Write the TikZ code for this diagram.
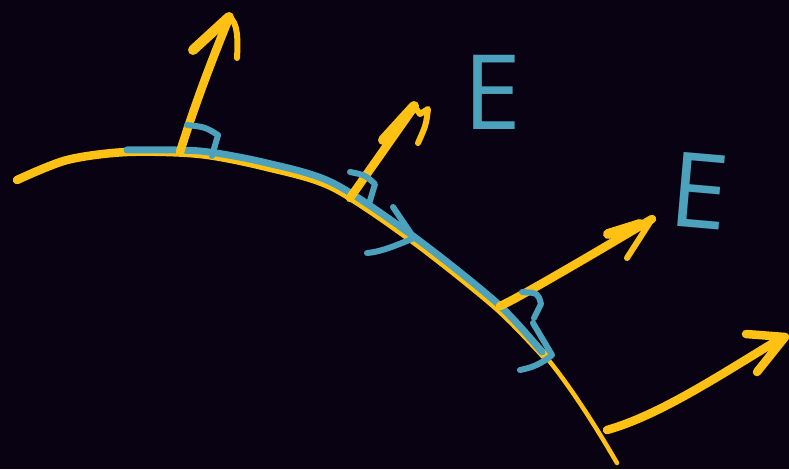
\documentclass[tikz,border=0pt]{standalone}
\usepackage{fontspec}
\newfontfamily\sketchfont{Open Sans}
\usetikzlibrary{backgrounds}
\definecolor{nightbg}{RGB}{9,2,18}
\definecolor{penyellow}{RGB}{255,194,20}
\definecolor{penblue}{RGB}{76,162,188}
\tikzset{
    pen/.style={line cap=round, line join=round},
    yellowpen/.style={pen, draw=penyellow, line width=8.5pt},
    thinyellow/.style={pen, draw=penyellow, line width=4.5pt},
    bluepen/.style={pen, draw=penblue, line width=7pt},
    markpen/.style={pen, draw=penblue, line width=6pt},
    letter/.style={text=penblue, inner sep=0pt, font=\sketchfont\fontsize{104}{104}\selectfont}
}

\begin{document}
\begin{tikzpicture}[x=1pt, y=-1pt]
    % Background
    \fill [nightbg] (0,0) rectangle (789,469);
    \useasboundingbox (0,0) rectangle (789,469);

    % Surface (yellow) and its tail
    \draw [yellowpen] plot [smooth] coordinates {(17,180) (67,160) (127,152) (200,154) (267,167) (333,187) (413,240) (497,307) (545,356)};
    \draw [thinyellow] (540,350) .. controls (565,378) and (595,425) .. (617,463);

    % Path along the surface (blue)
    \draw [bluepen] plot [smooth] coordinates {(127,150) (200,151) (267,163) (333,183) (413,236) (497,303) (542,352)};

    % Normal vectors
    \draw [yellowpen] (180,152) .. controls (198,95) and (216,50) .. (229,18);
    \draw [yellowpen, line width=10pt] (193,50) -- (229,17);
    \draw [thinyellow, line width=6pt] (229,17) .. controls (238,22) and (238,40) .. (237,58);

    \draw [yellowpen] (350,198) -- (414,107);
    \draw [yellowpen, line width=10pt] (383,140) -- (414,106);
    \draw [thinyellow, line width=6pt] (414,106) -- (420,114) -- (428,109) .. controls (426,125) .. (418,143);

    \draw [yellowpen] (500,306) .. controls (515,300) and (600,250) .. (652,219);
    \draw [yellowpen, line width=10pt] (608,234) -- (640,224);
    \draw [thinyellow, line width=6pt] (652,219) -- (627,258);

    \draw [yellowpen] (607,430) .. controls (660,415) and (720,375) .. (783,337);
    \draw [yellowpen] (746,334) -- (785,337) -- (757,372);

    % Right-angle marks
    \draw [markpen] (187,125) .. controls (205,127) .. (218,135) -- (212,156);
    \draw [markpen] (350,172) .. controls (365,175) .. (375,184) -- (369,204);
    \draw [markpen] (522,292) .. controls (538,293) .. (541,304) -- (534,318);

    % Direction chevrons
    \draw [markpen] (393,207) -- (414,238) .. controls (395,246) and (380,252) .. (367,253);
    \draw [markpen] (533,323) -- (552,355) .. controls (540,365) and (530,368) .. (520,370);

    % Field labels
    \node [letter] (e1) at (492,92) {E};
    \node [letter, rotate=-5] (e2) at (700,191) {E};
\end{tikzpicture}
\end{document}
